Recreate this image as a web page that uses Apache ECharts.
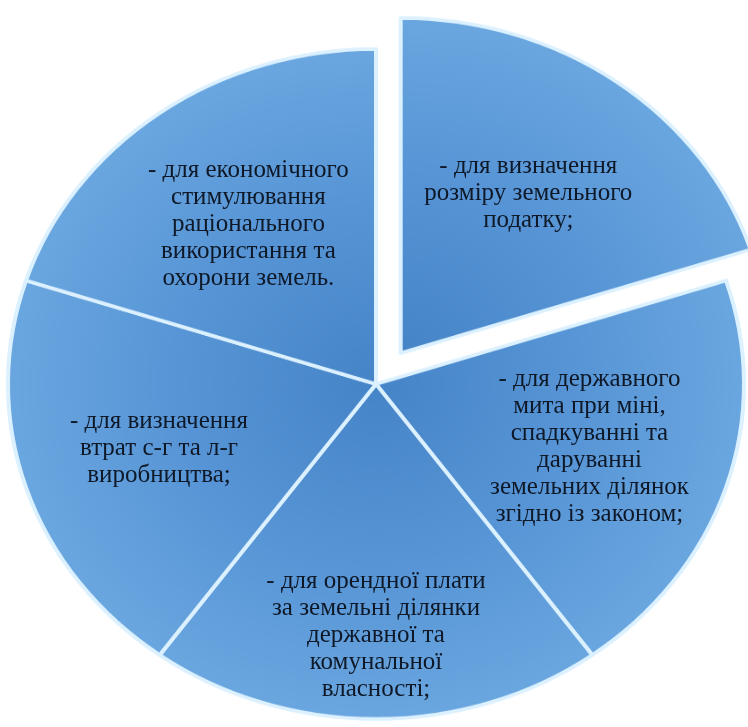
<!DOCTYPE html>
<html>
<head>
<meta charset="utf-8">
<script src="https://cdn.jsdelivr.net/npm/echarts@6/dist/echarts.min.js"></script>
<style>
  html, body { margin: 0; padding: 0; background: #ffffff; }
  #wrap { position: relative; width: 748px; height: 727px; overflow: hidden; }
  #pieA { position: absolute; left: 0; top: 0; width: 748px; transform-origin: 0 0; }
  #pieB { position: absolute; left: 0; top: 0; width: 748px; height: 727px; }
</style>
</head>
<body>
<div id="wrap">
  <div id="pieA"></div>
  <div id="pieB"></div>
</div>
<script>
// ---- data ----
const categories = [
  '- для визначення\nрозміру земельного\nподатку;',
  '- для державного\nмита при міні,\nспадкуванні та\nдаруванні\nземельних ділянок\nзгідно із законом;',
  '- для орендної плати\nза земельні ділянки\nдержавної та\nкомунальної\nвласності;',
  '- для визначення\nвтрат с-г та л-г\nвиробництва;',
  '- для економічного\nстимулювання\nраціонального\nвикористання та\nохорони земель.'
];
const values = [20, 20, 20, 20, 20];
const explodedIndex = 0;

// ---- layout / style ----
const W = 748, H = 727;
const CX = 376, CY = 384;   // screen centre
const RX = 368, RY = 335;   // ellipse radii on screen
const SY = RY / RX;         // vertical squash
const OFFSET = 42;          // explode distance (unsquashed)
const labelRadius = [0.59, 0.61, 0.75, 0.62, 0.59];

const hA = Math.round(H / SY);
const elA = document.getElementById('pieA');
elA.style.height = hA + 'px';
elA.style.transform = 'scaleY(' + SY + ')';

const chartA = echarts.init(elA, null, { renderer: 'canvas', width: W, height: hA });
const cyA = CY / SY;
const grad = {
  type: 'radial', x: CX, y: cyA, r: RX, global: true,
  colorStops: [
    { offset: 0, color: '#4584c7' },
    { offset: 0.55, color: '#5795d6' },
    { offset: 1, color: '#6aa6df' }
  ]
};
chartA.setOption({
  animation: false,
  series: [{
    type: 'pie',
    center: [CX, cyA],
    radius: [0, RX],
    startAngle: 90,
    clockwise: true,
    selectedMode: 'single',
    selectedOffset: OFFSET,
    label: { show: false },
    labelLine: { show: false },
    emphasis: { disabled: true },
    itemStyle: { color: grad, borderColor: '#dcf1ff', borderWidth: 4 },
    data: values.map((v, i) => ({ value: v, name: 'c' + i, selected: i === explodedIndex }))
  }]
});

// ---- labels overlay ----
const chartB = echarts.init(document.getElementById('pieB'), null, { renderer: 'canvas', width: W, height: H });
const total = values.reduce((a, b) => a + b, 0);
const midAngles = [];
let acc = 0;
values.forEach(v => { midAngles.push((90 - (acc + v / 2) / total * 360) * Math.PI / 180); acc += v; });

chartB.setOption({
  animation: false,
  series: [{
    type: 'pie',
    center: [CX, CY],
    radius: [0, RX],
    startAngle: 90,
    clockwise: true,
    silent: true,
    itemStyle: { color: 'rgba(0,0,0,0)', borderWidth: 0 },
    label: {
      show: true,
      position: 'inside',
      formatter: p => categories[p.dataIndex],
      fontFamily: 'Liberation Serif',
      fontSize: 25,
      lineHeight: 27,
      color: '#0e1827',
      align: 'center'
    },
    labelLine: { show: false },
    labelLayout: function (p) {
      const i = p.dataIndex;
      const a = midAngles[i];
      const k = labelRadius[i];
      let x = CX + k * RX * Math.cos(a);
      let y = CY - k * RY * Math.sin(a);
      if (i === explodedIndex) {
        x += OFFSET * Math.cos(a);
        y -= OFFSET * SY * Math.sin(a);
      }
      return { x: x, y: y, align: 'center', verticalAlign: 'middle' };
    },
    data: values.map((v, i) => ({ value: v, name: 'c' + i }))
  }]
});
</script>
</body>
</html>
